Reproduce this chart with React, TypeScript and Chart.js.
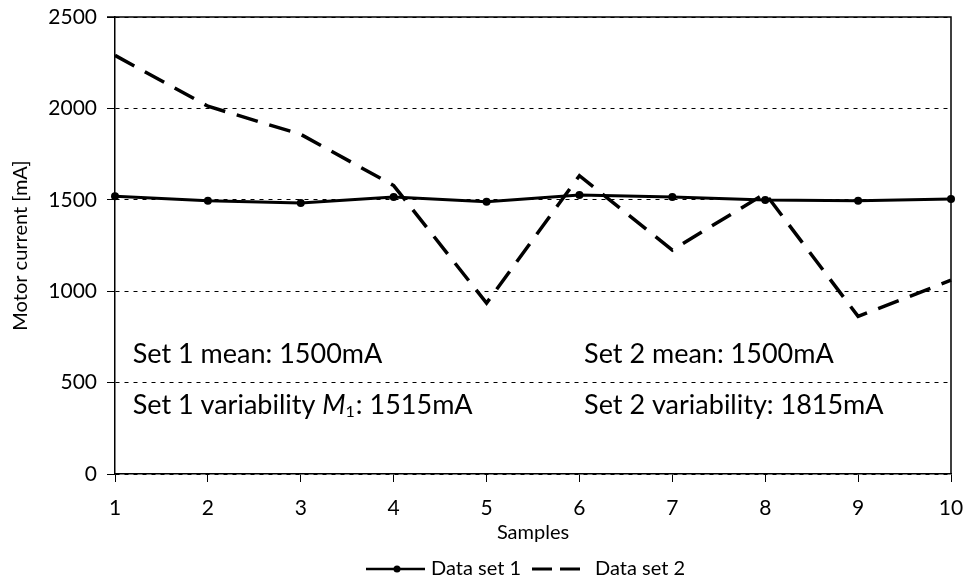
import React, { useEffect, useRef } from "react";
import { Chart, registerables } from "chart.js";

Chart.register(...registerables);

const samples = ["1", "2", "3", "4", "5", "6", "7", "8", "9", "10"];
const dataSet1 = [1520, 1495, 1482, 1515, 1490, 1526, 1515, 1499, 1495, 1504];
const dataSet2 = [2290, 2012, 1858, 1578, 935, 1632, 1225, 1535, 862, 1060];
const yTicks = [0, 500, 1000, 1500, 2000, 2500];
const seriesNames = ["Data set 1", "Data set 2"];
const yTitle = "Motor current [mA]";
const xTitle = "Samples";
const set1MeanText = "Set 1 mean: 1500mA";
const set2MeanText = "Set 2 mean: 1500mA";
const set2VarText = "Set 2 variability: 1815mA";

const FONT = "Lato";
const ANN = 27;

const overlayPlugin = {
  id: "overlay",
  afterDraw(chart: any) {
    const { ctx, chartArea, scales } = chart;
    const x = scales.x;
    const y = scales.y;
    ctx.save();
    ctx.strokeStyle = "#000";
    ctx.lineWidth = 1.5;
    ctx.setLineDash([]);
    ctx.beginPath();
    ctx.moveTo(chartArea.left - 8, chartArea.top);
    ctx.lineTo(chartArea.right, chartArea.top);
    ctx.lineTo(chartArea.right, chartArea.bottom);
    ctx.stroke();

    ctx.fillStyle = "#000";
    // axis titles
    ctx.font = `20px ${FONT}`;
    ctx.textAlign = "center";
    ctx.textBaseline = "middle";
    ctx.fillText(xTitle, (chartArea.left + chartArea.right) / 2, 533);
    ctx.save();
    ctx.translate(21, (chartArea.top + chartArea.bottom) / 2);
    ctx.rotate(-Math.PI / 2);
    ctx.fillText(yTitle, 0, 0);
    ctx.restore();

    // annotations
    ctx.font = `${ANN}px ${FONT}`;
    ctx.textAlign = "left";
    ctx.textBaseline = "middle";
    const xa = x.getPixelForValue(0.19);
    const xb = x.getPixelForValue(5.05);
    const yMean = y.getPixelForValue(656);
    const yVar = y.getPixelForValue(377);
    ctx.fillText(set1MeanText, xa, yMean);
    ctx.fillText(set2MeanText, xb, yMean);
    ctx.fillText(set2VarText, xb, yVar);
    // Set 1 variability M1
    let cx = xa;
    const p1 = "Set 1 variability ";
    ctx.fillText(p1, cx, yVar);
    cx += ctx.measureText(p1).width;
    ctx.font = `italic ${ANN}px ${FONT}`;
    ctx.fillText("M", cx, yVar);
    cx += ctx.measureText("M").width;
    ctx.font = `16px ${FONT}`;
    ctx.fillText("1", cx, yVar + 7);
    cx += ctx.measureText("1").width + 1;
    ctx.font = `${ANN}px ${FONT}`;
    ctx.fillText(": 1515mA", cx, yVar);

    // legend
    const ly = 569;
    ctx.lineWidth = 2.5;
    ctx.beginPath();
    ctx.moveTo(366, ly);
    ctx.lineTo(425, ly);
    ctx.stroke();
    ctx.beginPath();
    ctx.arc(397, ly, 3.5, 0, Math.PI * 2);
    ctx.fill();
    ctx.font = `20px ${FONT}`;
    ctx.textAlign = "left";
    ctx.fillText(seriesNames[0], 431, ly);
    ctx.lineWidth = 3;
    ctx.setLineDash([20, 8]);
    ctx.beginPath();
    ctx.moveTo(532, ly);
    ctx.lineTo(580, ly);
    ctx.stroke();
    ctx.setLineDash([]);
    ctx.fillText(seriesNames[1], 595, ly);
    ctx.restore();
  },
};

export default function App() {
  const ref = useRef<HTMLCanvasElement | null>(null);
  useEffect(() => {
    if (!ref.current) return;
    const chart = new Chart(ref.current, {
      type: "line",
      data: {
        labels: samples,
        datasets: [
          {
            label: seriesNames[0],
            data: dataSet1,
            borderColor: "#000",
            backgroundColor: "#000",
            borderWidth: 3,
            pointRadius: 4,
            pointBackgroundColor: "#000",
            pointBorderWidth: 0,
            tension: 0,
          },
          {
            label: seriesNames[1],
            data: dataSet2,
            borderColor: "#000",
            backgroundColor: "#000",
            borderWidth: 3.5,
            borderDash: [22, 12],
            pointRadius: 0,
            tension: 0,
          },
        ],
      },
      options: {
        animation: false,
        responsive: true,
        maintainAspectRatio: false,
        layout: { padding: { left: 0, top: 17, right: 15, bottom: 0 } },
        plugins: { legend: { display: false }, tooltip: { enabled: false } },
        scales: {
          x: {
            type: "category",
            offset: false,
            grid: { drawOnChartArea: false, drawTicks: true, tickLength: 8, color: "#000" },
            border: { display: true, color: "#000", width: 1.5 },
            ticks: { color: "#000", font: { family: FONT, size: 21 }, padding: 14, maxRotation: 0, autoSkip: false },
            afterFit: (s: any) => {
              s.height = 107;
              s.paddingLeft = 0;
              s.paddingRight = 0;
            },
          },
          y: {
            min: 0,
            max: 2500,
            afterBuildTicks: (s: any) => {
              s.ticks = yTicks.map((v) => ({ value: v }));
            },
            grid: { color: "#000", lineWidth: 1, drawTicks: true, tickLength: 8, tickBorderDash: [] },
            border: { display: true, color: "#000", width: 1.5, dash: [4, 5] },
            ticks: {
              color: "#000",
              font: { family: FONT, size: 21 },
              padding: 10,
              callback: (v: any) => String(v),
            },
            afterFit: (s: any) => {
              s.width = 115;
              s.paddingTop = 0;
              s.paddingBottom = 0;
            },
          },
        },
      },
      plugins: [overlayPlugin],
    });
    return () => chart.destroy();
  }, []);
  return (
    <div style={{ position: "fixed", left: 0, top: 0, width: 966, height: 581, background: "#fff" }}>
      <canvas ref={ref} />
    </div>
  );
}
